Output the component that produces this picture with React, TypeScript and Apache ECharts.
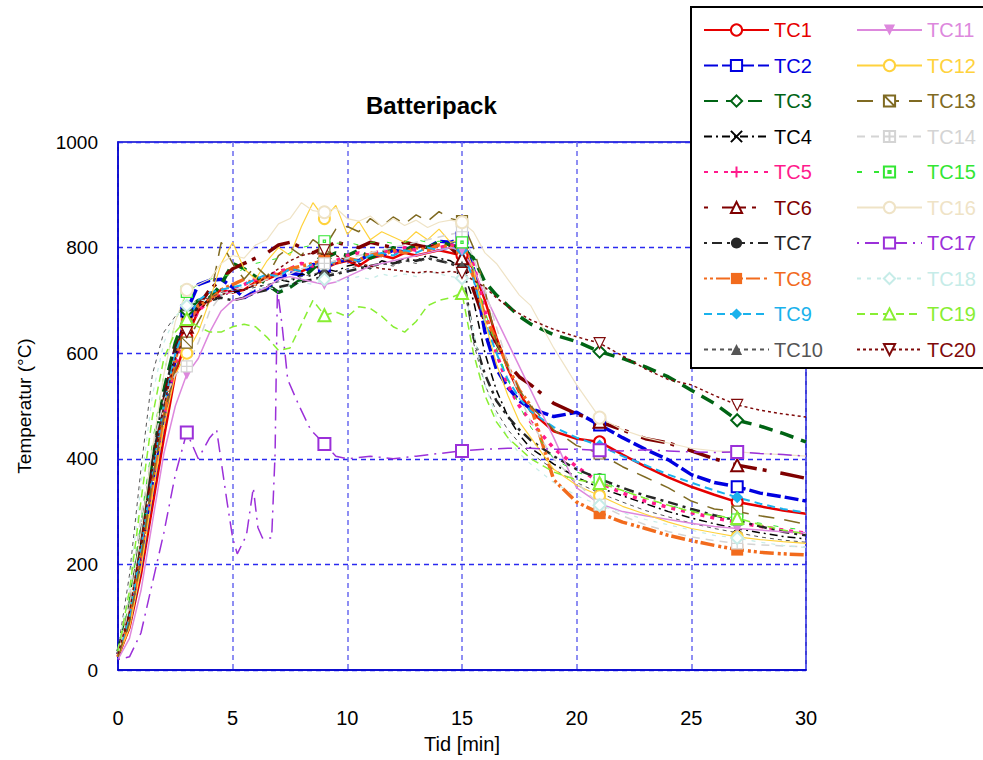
import React, { useEffect, useRef } from 'react';
import * as echarts from 'echarts';

const FONT = 'Arial, "Liberation Sans", Helvetica, sans-serif';

// shared time axis (minutes)
const T = [0, 0.5, 1, 1.5, 2, 2.5, 3, 3.5, 4, 4.5, 5,
  5.5, 6, 6.5, 7, 7.5, 8, 8.5, 9, 9.5, 10, 10.5, 11, 11.5, 12, 12.5, 13, 13.5, 14, 14.5, 15,
  15.5, 16, 16.5, 17, 17.5, 18,
  19, 20, 21, 22, 23, 24, 25, 26, 27, 28, 29, 30];

const MARK_TIMES = [3, 9, 15, 21, 27];

const TC1 = [25, 80, 180, 310, 440, 560, 630, 680, 705, 720, 715,
  720, 735, 740, 750, 760, 755, 765, 760, 770, 775, 765, 780, 785, 780, 790, 785, 790, 795, 790, 785,
  760, 700, 630, 570, 525, 490,
  452, 438, 432, 408, 385, 365, 347, 332, 318, 310, 302, 296];
const TC2 = [30, 90, 200, 340, 470, 590, 680, 730, 738, 740, 725,
  705, 718, 722, 742, 752, 748, 768, 765, 772, 778, 775, 788, 785, 795, 792, 803, 800, 812, 810, 818,
  760, 640, 570, 535, 510, 495,
  480, 488, 464, 440, 418, 398, 370, 355, 347, 335, 328, 320];
const TC3 = [35, 120, 250, 400, 530, 620, 680, 700, 705, 730, 770,
  760, 745, 730, 715, 725, 740, 760, 780, 790, 785, 795, 780, 790, 800, 795, 805, 800, 810, 805, 800,
  780, 735, 710, 690, 670, 655,
  635, 622, 603, 590, 574, 555, 530, 505, 473, 462, 448, 432];
const TC4 = [30, 110, 240, 380, 500, 600, 660, 690, 700, 710, 715,
  720, 730, 725, 740, 735, 750, 745, 760, 755, 765, 770, 760, 775, 770, 780, 775, 785, 780, 775, 760,
  700, 600, 530, 480, 445, 420,
  390, 365, 345, 330, 315, 300, 288, 277, 268, 260, 253, 248];
const TC5 = [25, 90, 210, 350, 480, 580, 640, 680, 700, 710, 720,
  730, 740, 745, 755, 760, 770, 765, 780, 775, 785, 790, 785, 795, 790, 800, 795, 805, 800, 805, 800,
  770, 680, 600, 540, 500, 470,
  420, 385, 355, 335, 320, 308, 298, 288, 280, 272, 265, 259];
const TC6 = [30, 100, 230, 380, 510, 610, 650, 690, 720, 740, 760,
  770, 780, 790, 805, 810, 800, 790, 800, 810, 805, 800, 810, 805, 800, 810, 805, 800, 805, 800, 780,
  720, 660, 620, 580, 555, 540,
  505, 485, 470, 455, 438, 430, 415, 400, 388, 380, 372, 363];
const TC7 = [30, 120, 260, 400, 520, 610, 660, 690, 700, 705, 700,
  705, 715, 720, 725, 730, 735, 740, 745, 750, 755, 760, 765, 770, 770, 775, 775, 780, 775, 770, 760,
  630, 560, 510, 480, 455, 435,
  405, 380, 362, 345, 330, 318, 305, 293, 283, 272, 262, 255];
const TC8 = [25, 90, 210, 350, 480, 590, 655, 690, 700, 720, 730,
  740, 730, 745, 750, 760, 765, 770, 775, 770, 780, 775, 790, 785, 795, 790, 800, 795, 805, 800, 800,
  745, 670, 625, 575, 530, 500,
  360, 318, 297, 280, 268, 255, 245, 236, 228, 223, 220, 218];
const TC9 = [30, 100, 230, 370, 500, 600, 660, 700, 715, 720, 725,
  730, 740, 750, 745, 760, 755, 770, 765, 775, 780, 775, 785, 790, 785, 795, 790, 800, 795, 800, 795,
  740, 660, 600, 550, 515, 490,
  460, 440, 425, 405, 388, 370, 355, 340, 327, 315, 305, 298];
const TC10 = [40, 180, 380, 560, 640, 670, 690, 700, 705, 715, 720,
  720, 725, 730, 735, 740, 745, 750, 755, 750, 760, 765, 760, 770, 765, 775, 770, 780, 775, 770, 765,
  620, 540, 490, 455, 430, 410,
  380, 355, 335, 318, 302, 290, 278, 268, 260, 252, 246, 242];
const TC11 = [20, 60, 150, 280, 410, 500, 560, 590, 640, 680, 700,
  705, 715, 725, 740, 745, 740, 735, 730, 735, 745, 755, 765, 770, 775, 780, 785, 790, 795, 800, 795,
  760, 710, 665, 620, 575, 530,
  440, 345, 315, 300, 292, 285, 278, 272, 268, 265, 262, 260];
const TC12 = [25, 80, 190, 330, 460, 560, 600, 640, 700, 770, 810,
  760, 740, 775, 800, 785, 840, 885, 855, 880, 825, 850, 815, 830, 820, 810, 830, 815, 835, 810, 815,
  760, 660, 580, 520, 470, 440,
  380, 350, 330, 310, 295, 280, 268, 260, 252, 247, 243, 240];
const TC13 = [25, 90, 210, 360, 480, 570, 620, 660, 700, 810, 770,
  740, 765, 745, 785, 800, 785, 815, 800, 835, 840, 830, 855, 840, 858, 845, 862, 850, 868, 855, 850,
  800, 720, 620, 575, 530, 500,
  455, 425, 410, 385, 365, 345, 320, 305, 300, 292, 285, 276];
const TC14 = [35, 140, 290, 420, 510, 560, 575, 620, 680, 710, 720,
  725, 730, 740, 745, 750, 760, 765, 770, 775, 780, 785, 790, 795, 800, 805, 810, 815, 820, 825, 830,
  780, 720, 650, 580, 520, 470,
  400, 355, 313, 292, 275, 262, 252, 245, 240, 237, 235, 233];
const TC15 = [35, 130, 280, 430, 560, 660, 716, 730, 740, 745, 750,
  760, 770, 775, 780, 790, 800, 805, 812, 808, 810, 805, 810, 812, 808, 810, 815, 810, 812, 810, 810,
  760, 680, 610, 550, 500, 460,
  400, 375, 360, 340, 325, 312, 302, 293, 285, 278, 270, 265];
const TC16 = [30, 120, 260, 420, 560, 660, 720, 730, 740, 770, 785,
  780, 805, 815, 845, 855, 885, 870, 867, 875, 855, 850, 860, 840, 855, 842, 852, 838, 848, 852, 848,
  830, 790, 770, 740, 710, 690,
  610, 540, 478, 455, 440, 430, 420, 415, 413, 410, 408, 405];
// TC17 has its own time points
const T17 = [0, 0.5, 1, 1.5, 2, 2.5, 3, 3.5, 4, 4.3, 4.75, 5, 5.2, 5.6, 5.9, 6.1, 6.3,
  6.7, 6.85, 6.95, 7.15, 7.4, 7.9, 8.4, 9, 9.5, 10, 11, 12, 13, 14, 15, 16, 17, 18, 19, 20,
  21, 22, 23, 24, 25, 26, 27, 28, 29, 30];
const TC17 = [20, 25, 70, 165, 260, 370, 450, 400, 440, 455, 320, 250, 220, 255, 345, 270, 250,
  250, 410, 720, 655, 550, 500, 455, 428, 405, 400, 405, 400, 405, 410, 415, 418, 420, 420, 418, 418,
  416, 415, 417, 415, 413, 412, 413, 410, 408, 405];
const TC18 = [40, 160, 350, 520, 620, 670, 690, 700, 700, 710, 715,
  715, 720, 725, 720, 730, 735, 730, 740, 735, 740, 745, 740, 750, 745, 750, 745, 755, 750, 745, 742,
  640, 540, 480, 440, 410, 390,
  355, 330, 312, 298, 285, 275, 265, 255, 250, 242, 236, 232];
const TC19 = [35, 150, 320, 480, 590, 640, 665, 650, 640, 640, 650,
  655, 650, 630, 605, 610, 655, 700, 672, 678, 669, 688, 685, 670, 650, 640, 660, 690, 700, 705, 714,
  600, 520, 470, 440, 420, 400,
  375, 360, 354, 340, 325, 312, 300, 292, 288, 275, 265, 258];
const TC20 = [30, 110, 240, 380, 500, 590, 640, 680, 700, 710, 720,
  720, 730, 745, 760, 775, 785, 790, 795, 785, 775, 770, 765, 760, 758, 755, 752, 755, 752, 755, 752,
  738, 725, 705, 688, 675, 663,
  645, 631, 619, 595, 570, 550, 540, 520, 502, 492, 485, 479];

const X_TICKS = [0, 5, 10, 15, 20, 25, 30];
const Y_TICKS = [0, 200, 400, 600, 800, 1000];

const P_X = 'path://M0,0L10,10M10,0L0,10';
const P_PLUS = 'path://M5,0L5,10M0,5L10,5';
const P_DOWN = 'path://M0,0L10,0L5,9Z';
const P_SQDIAG = 'path://M0,0L10,0L10,10L0,10ZM0,0L10,10';
const P_SQGRID = 'path://M0,0L10,0L10,10L0,10ZM5,0L5,10M0,5L10,5';
const P_SQDOT = 'path://M0,0L10,0L10,10L0,10ZM4,4L6,4L6,6L4,6Z';

type Def = {
  name: string; t: number[]; v: number[]; color: string; width: number;
  dash: any; symbol: string; size: number; fill: 'empty' | 'solid' | 'white' | 'stroke';
};

const DEFS: Def[] = [
  { name: 'TC1', t: T, v: TC1, color: '#e60000', width: 2.5, dash: 'solid', symbol: 'emptyCircle', size: 11, fill: 'empty' },
  { name: 'TC2', t: T, v: TC2, color: '#0000e0', width: 3.5, dash: [14, 4], symbol: 'emptyRect', size: 11, fill: 'empty' },
  { name: 'TC3', t: T, v: TC3, color: '#006414', width: 3.5, dash: [14, 8], symbol: 'emptyDiamond', size: 12, fill: 'empty' },
  { name: 'TC4', t: T, v: TC4, color: '#000000', width: 1.5, dash: [8, 4, 2, 4], symbol: P_X, size: 10, fill: 'stroke' },
  { name: 'TC5', t: T, v: TC5, color: '#ff1a8c', width: 3.5, dash: [4, 6], symbol: P_PLUS, size: 10, fill: 'stroke' },
  { name: 'TC6', t: T, v: TC6, color: '#7f0000', width: 3.5, dash: [4, 14, 24, 6], symbol: 'emptyTriangle', size: 12, fill: 'empty' },
  { name: 'TC7', t: T, v: TC7, color: '#262626', width: 2.5, dash: [3, 5, 10, 5], symbol: 'circle', size: 11, fill: 'solid' },
  { name: 'TC8', t: T, v: TC8, color: '#f26b1d', width: 3.5, dash: [3, 3, 3, 3, 14, 4], symbol: 'rect', size: 12, fill: 'solid' },
  { name: 'TC9', t: T, v: TC9, color: '#1ab2ec', width: 2, dash: [8, 5], symbol: 'diamond', size: 12, fill: 'solid' },
  { name: 'TC10', t: T, v: TC10, color: '#555555', width: 1, dash: [4, 4], symbol: 'triangle', size: 11, fill: 'solid' },
  { name: 'TC11', t: T, v: TC11, color: '#dd88dd', width: 1.5, dash: 'solid', symbol: P_DOWN, size: 11, fill: 'solid' },
  { name: 'TC12', t: T, v: TC12, color: '#ffd23c', width: 1.2, dash: 'solid', symbol: 'emptyCircle', size: 11, fill: 'empty' },
  { name: 'TC13', t: T, v: TC13, color: '#7f6a22', width: 1.5, dash: [16, 10], symbol: P_SQDIAG, size: 11, fill: 'white' },
  { name: 'TC14', t: T, v: TC14, color: '#d4d4d4', width: 1.5, dash: [8, 6], symbol: P_SQGRID, size: 11, fill: 'white' },
  { name: 'TC15', t: T, v: TC15, color: '#33e633', width: 1, dash: [5, 12], symbol: P_SQDOT, size: 11, fill: 'white' },
  { name: 'TC16', t: T, v: TC16, color: '#efe3c6', width: 1.2, dash: 'solid', symbol: 'emptyCircle', size: 12, fill: 'empty' },
  { name: 'TC17', t: T17, v: TC17, color: '#9b30d9', width: 1.5, dash: [2, 6, 14, 6], symbol: 'emptyRect', size: 12, fill: 'empty' },
  { name: 'TC18', t: T, v: TC18, color: '#c6ece8', width: 1.2, dash: [4, 6], symbol: 'emptyDiamond', size: 12, fill: 'empty' },
  { name: 'TC19', t: T, v: TC19, color: '#88ee33', width: 1.5, dash: [8, 5], symbol: 'emptyTriangle', size: 12, fill: 'empty' },
  { name: 'TC20', t: T, v: TC20, color: '#7f0a0a', width: 1.5, dash: [3, 3], symbol: P_DOWN, size: 11, fill: 'white' },
];

function buildSeries(d: Def) {
  const data = d.t.map((t, i) =>
    MARK_TIMES.indexOf(t) >= 0 ? { value: [t, d.v[i]] } : { value: [t, d.v[i]], symbol: 'none' }
  );
  let itemStyle: any;
  if (d.fill === 'empty') itemStyle = { color: d.color, borderColor: d.color, borderWidth: 1.2 };
  else if (d.fill === 'solid') itemStyle = { color: d.color, borderColor: d.color, borderWidth: 0 };
  else if (d.fill === 'white') itemStyle = { color: '#ffffff', borderColor: d.color, borderWidth: 1.2 };
  else itemStyle = { color: d.color, borderColor: d.color, borderWidth: 1.5 };
  return {
    name: d.name,
    type: 'line',
    data,
    symbol: d.symbol,
    symbolSize: d.size,
    showSymbol: true,
    showAllSymbol: true,
    lineStyle: { color: d.color, width: d.width, type: d.dash },
    itemStyle,
    emphasis: { disabled: true },
    silent: true,
  };
}

function legendCfg(names: string[], left: number) {
  return {
    orient: 'vertical',
    left,
    top: 20,
    padding: 0,
    itemWidth: 65,
    itemHeight: 14,
    itemGap: 15.5,
    selectedMode: false,
    textStyle: { fontFamily: FONT, fontSize: 20, lineHeight: 20 },
    data: names.map((n) => {
      const d = DEFS.find((x) => x.name === n)!;
      return { name: n, textStyle: { color: d.color } };
    }),
  };
}

export default function App() {
  const ref = useRef<HTMLDivElement>(null);
  useEffect(() => {
    const chart = echarts.init(ref.current!, null, { renderer: 'svg' });
    const option: any = {
      animation: false,
      backgroundColor: '#ffffff',
      title: {
        text: 'Batteripack',
        left: 366,
        top: 93,
        padding: 0,
        textStyle: { fontFamily: FONT, fontSize: 24, fontWeight: 'bold', color: '#000' },
      },
      grid: {
        left: 118, top: 142, right: 177, bottom: 90,
        show: true, borderColor: '#0000cc', borderWidth: 1.5, backgroundColor: 'transparent',
      },
      xAxis: {
        type: 'value', min: X_TICKS[0], max: X_TICKS[X_TICKS.length - 1], interval: 5,
        name: 'Tid [min]', nameLocation: 'middle', nameGap: 64,
        nameTextStyle: { fontFamily: FONT, fontSize: 20, color: '#000' },
        axisLine: { show: true, lineStyle: { color: '#0000cc', width: 1.5 } },
        axisTick: { show: false },
        axisLabel: { margin: 38, fontFamily: FONT, fontSize: 20, color: '#000' },
        splitLine: { show: true, lineStyle: { color: '#6a6af0', width: 1.5, type: [5, 4] } },
      },
      yAxis: {
        type: 'value', min: Y_TICKS[0], max: Y_TICKS[Y_TICKS.length - 1], interval: 200,
        name: 'Temperatur (°C)', nameLocation: 'middle', nameGap: 84,
        nameTextStyle: { fontFamily: FONT, fontSize: 19, color: '#000' },
        axisLine: { show: true, lineStyle: { color: '#0000cc', width: 1.5 } },
        axisTick: { show: false },
        axisLabel: { margin: 20, fontFamily: FONT, fontSize: 19, color: '#000', formatter: (v: number) => String(v) },
        splitLine: { show: true, lineStyle: { color: '#2a2af0', width: 1.3, type: [5, 4] } },
      },
      legend: [
        legendCfg(DEFS.slice(0, 10).map((d) => d.name), 703),
        legendCfg(DEFS.slice(10).map((d) => d.name), 856),
      ],
      graphic: [
        {
          type: 'rect', z: 3, silent: true,
          shape: { x: 691, y: 7, width: 310, height: 361 },
          style: { fill: '#ffffff', stroke: '#000000', lineWidth: 2 },
        },
      ],
      series: DEFS.map(buildSeries),
    };
    chart.setOption(option);
    return () => chart.dispose();
  }, []);
  return (
    <div
      ref={ref}
      style={{ position: 'fixed', left: 0, top: 0, width: 983, height: 760, background: '#fff' }}
    />
  );
}
